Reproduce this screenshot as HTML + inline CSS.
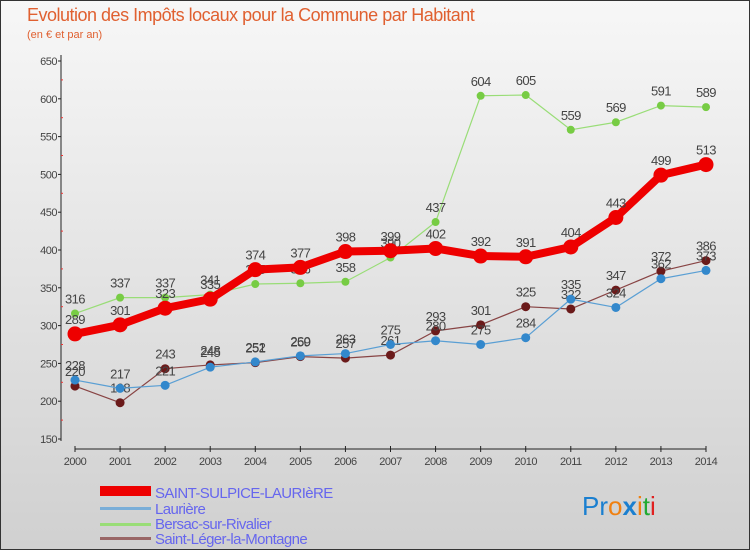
<!DOCTYPE html>
<html><head><meta charset="utf-8"><style>
body{margin:0;width:750px;height:550px;overflow:hidden;font-family:"Liberation Sans","DejaVu Sans",sans-serif}
svg{display:block}
</style></head><body>
<svg id="c" width="750" height="550" xmlns="http://www.w3.org/2000/svg">
<defs><linearGradient id="bg" x1="0" y1="0" x2="0" y2="1"><stop offset="0" stop-color="#f7f7f7"/><stop offset="1" stop-color="#d0d0d0"/></linearGradient></defs>
<rect x="0.5" y="0.5" width="749" height="549" fill="url(#bg)" stroke="#333"/>
<text x="27" y="21" font-size="18" fill="#e06030" letter-spacing="-0.5">Evolution des Impôts locaux pour la Commune par Habitant</text>
<text x="27" y="38" font-size="11" fill="#e06030">(en € et par an)</text>
<g id="axes"></g><g id="series"></g>
<g font-size="15" fill="#6666ee" letter-spacing="-0.6">
<rect x="100" y="486" width="51" height="10" fill="#e00"/>
<text x="155" y="498">SAINT-SULPICE-LAURIèRE</text>
<rect x="100" y="507" width="51" height="3" fill="#7aaed8"/>
<text x="155" y="514">Laurière</text>
<rect x="100" y="523" width="51" height="3" fill="#99dd77"/>
<text x="155" y="529">Bersac-sur-Rivalier</text>
<rect x="100" y="537" width="51" height="3" fill="#996666"/>
<text x="155" y="544">Saint-Léger-la-Montagne</text>
</g>
<text x="582" y="515" font-size="26" font-family="Liberation Sans,sans-serif"><tspan fill="#1a7fd0">Pr</tspan><tspan fill="#f08010">o</tspan><tspan fill="#1a7fd0" font-weight="bold">x</tspan><tspan fill="#f08010">i</tspan><tspan fill="#22aa33">t</tspan><tspan fill="#e02020">i</tspan></text>
</svg>
<script>
const years=[2000,2001,2002,2003,2004,2005,2006,2007,2008,2009,2010,2011,2012,2013,2014];
const yTicks=[150,200,250,300,350,400,450,500,550,600,650];
const sStSulpice=[289,301,323,335,374,377,398,399,402,392,391,404,443,499,513];
const sLauriere=[228,217,221,245,252,260,263,275,280,275,284,335,324,362,373];
const sBersac=[316,337,337,341,355,356,358,390,437,604,605,559,569,591,589];
const sStLeger=[220,198,243,248,251,259,257,261,293,301,325,322,347,372,386];
const NS="http://www.w3.org/2000/svg";
function X(i){return 75+i*(706-75)/(years.length-1);}
function Y(v){return 61+(650-v)*(439-61)/500;}
function mk(t,a,p){const e=document.createElementNS(NS,t);for(const k in a)e.setAttribute(k,a[k]);p.appendChild(e);return e;}
const ax=document.getElementById('axes');
let l=mk('line',{x1:61,y1:55,x2:61,y2:441,stroke:'#222'},ax);


l=mk('line',{x1:75,y1:449,x2:706,y2:449,stroke:'#222'},ax);


yTicks.forEach((v,k)=>{
 const t=mk('line',{x1:58,y1:Y(v),x2:61,y2:Y(v),stroke:'#222'},ax);
 
 
 if(k>0){
  const g=mk('line',{x1:61,y1:Y(v-25),x2:63,y2:Y(v-25),stroke:'#e33'},ax);
  
  
 }
 const tx=mk('text',{x:57,y:Y(v)+4,'text-anchor':'end','font-size':11,fill:'#444','letter-spacing':'-0.5'},ax);
 tx.textContent=v;
 
 
});
years.forEach((yr,i)=>{
 const t=mk('line',{x1:X(i),y1:446,x2:X(i),y2:452,stroke:'#222'},ax);
 
 
 const tx=mk('text',{x:X(i),y:465,'text-anchor':'middle','font-size':11,fill:'#444','letter-spacing':'-0.5'},ax);
 tx.textContent=yr;
 
 
});
const sg=document.getElementById('series');
function draw(vals,color,dot,w,r,name){
 const g=mk('g',{},sg);
 
 
 const p=mk('polyline',{points:vals.map((v,i)=>X(i)+','+Y(v)).join(' '),fill:'none',stroke:color,'stroke-width':w,'stroke-linejoin':'round'},g);
 
 
 vals.forEach((v,i)=>{
  const c=mk('circle',{cx:X(i),cy:Y(v),r:r,fill:dot},g);
  
  
  const t=mk('text',{x:X(i),y:Y(v)-10,'text-anchor':'middle','font-size':13,fill:'#444','letter-spacing':'-0.6'},g);
  t.textContent=v;
  
  
 });
}
draw(sStLeger,'#884444','#6b1a1a',1.2,4.5,'series-saint-leger');
draw(sLauriere,'#5a9fd4','#3388cc',1.2,4.5,'series-lauriere');
draw(sBersac,'#99dd77','#77cc44',1.2,4,'series-bersac');
draw(sStSulpice,'#ee0000','#ee0000',8,7.5,'series-saint-sulpice');
</script>
</body></html>
